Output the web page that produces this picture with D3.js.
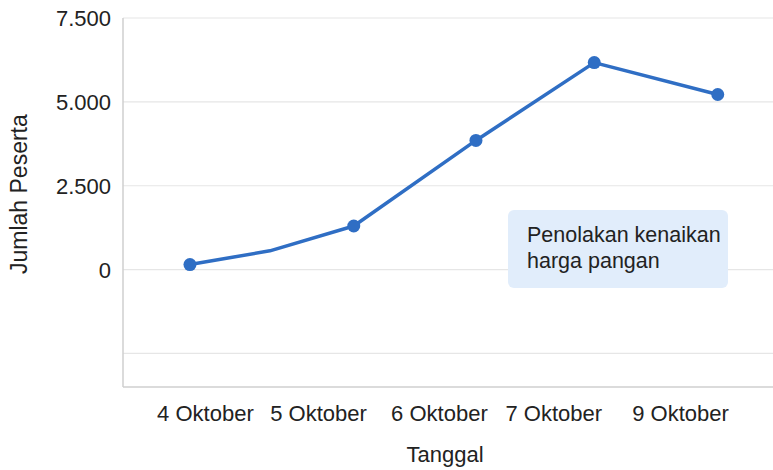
<!DOCTYPE html>
<html>
<head>
<meta charset="utf-8">
<script src="https://cdn.jsdelivr.net/npm/d3@7"></script>
<style>
  body { margin: 0; background: #fff; }
  text { font-family: "Liberation Sans", Arial, sans-serif; fill: #222; }
</style>
</head>
<body>
<svg id="chart" width="773" height="470"></svg>
<script>
// category labels and where they sit along the x axis (0..1 of plot width)
const dateLabels = ["4 Oktober", "5 Oktober", "6 Oktober", "7 Oktober", "9 Oktober"];
const labelPos = [0.126, 0.300, 0.486, 0.662, 0.857];

// line points: position along x axis (0..1), participants, marker shown
const pointPos = [0.103, 0.226, 0.355, 0.543, 0.725, 0.915];
const pesertaValues = [150, 560, 1300, 3850, 6170, 5220];
const showMarker = [true, false, true, true, true, true];

const yTicks = [-2500, 0, 2500, 5000, 7500];
const noteLines = ["Penolakan kenaikan", "harga pangan"];

const width = 773, height = 470;
const margin = {top: 18, right: 0, bottom: 83, left: 123};
const plotW = width - margin.left - margin.right;
const plotH = height - margin.top - margin.bottom;

const idLocale = d3.formatLocale({decimal: ",", thousands: ".", grouping: [3], currency: ["Rp", ""]});
const fmt = idLocale.format(",");

const svg = d3.select("#chart");
const g = svg.append("g").attr("transform", `translate(${margin.left},${margin.top})`);

let x = d3.scaleLinear().domain([0, 1]).range([0, plotW]);
let y = d3.scaleLinear().domain([-3500, 7500]).range([plotH, 0]);

// gridlines
g.selectAll(".grid")
  .data(yTicks)
  .enter().append("line")
  .attr("x1", 0).attr("x2", plotW)
  .attr("y1", d => y(d)).attr("y2", d => y(d))
  .attr("stroke", "#e6e6e6").attr("stroke-width", 1.2);

// y tick labels (no label for the negative line)
g.selectAll(".ylab")
  .data(yTicks.filter(d => d >= 0))
  .enter().append("text")
  .attr("x", -12)
  .attr("y", d => y(d))
  .attr("dy", "0.36em")
  .attr("text-anchor", "end")
  .style("font-size", "22px")
  .text(d => fmt(d));

// axis frame lines
g.append("line")
  .attr("x1", 0).attr("x2", 0).attr("y1", 0).attr("y2", plotH)
  .attr("stroke", "#cfcfcf").attr("stroke-width", 1.5);
g.append("line")
  .attr("x1", 0).attr("x2", plotW).attr("y1", plotH).attr("y2", plotH)
  .attr("stroke", "#cfcfcf").attr("stroke-width", 1.5);

// x labels through an axis
let bottomAxis = d3.axisBottom(x)
  .tickValues(labelPos)
  .tickFormat((d, i) => dateLabels[i])
  .tickSize(0)
  .tickPadding(18);

let xAxis = g.append("g")
  .attr("transform", `translate(0,${plotH})`)
  .call(bottomAxis);
xAxis.select(".domain").remove();
xAxis.selectAll("text")
  .style("font-size", "22px")
  .style("font-family", "'Liberation Sans', Arial, sans-serif")
  .attr("fill", "#222");

// axis titles
svg.append("text")
  .attr("x", margin.left + plotW * 0.5 - 3)
  .attr("y", 462)
  .attr("text-anchor", "middle")
  .style("font-size", "22px")
  .text("Tanggal");

svg.append("text")
  .attr("transform", `translate(27,${margin.top + y(2250)}) rotate(-90)`)
  .attr("text-anchor", "middle")
  .style("font-size", "23px")
  .text("Jumlah Peserta");

// line
const lineData = pointPos.map((p, i) => ({p: p, v: pesertaValues[i], m: showMarker[i]}));

const line = d3.line()
  .x(d => x(d.p))
  .y(d => y(d.v));

g.append("path")
  .datum(lineData)
  .attr("d", line)
  .attr("fill", "none")
  .attr("stroke", "#2f6ec4")
  .attr("stroke-width", 3.5)
  .attr("stroke-linejoin", "round");

g.selectAll(".dot")
  .data(lineData.filter(d => d.m))
  .enter().append("circle")
  .attr("cx", d => x(d.p))
  .attr("cy", d => y(d.v))
  .attr("r", 6.5)
  .attr("fill", "#2f6ec4");

// note box
const note = svg.append("g").attr("transform", "translate(508,210)");
note.append("rect")
  .attr("width", 220).attr("height", 78)
  .attr("rx", 6)
  .attr("fill", "#e1edfb");
note.selectAll("text")
  .data(noteLines)
  .enter().append("text")
  .attr("x", 19)
  .attr("y", (d, i) => 32 + i * 26)
  .style("font-size", "21.5px")
  .attr("fill", "#1c1c1c")
  .text(d => d);
</script>
</body>
</html>
